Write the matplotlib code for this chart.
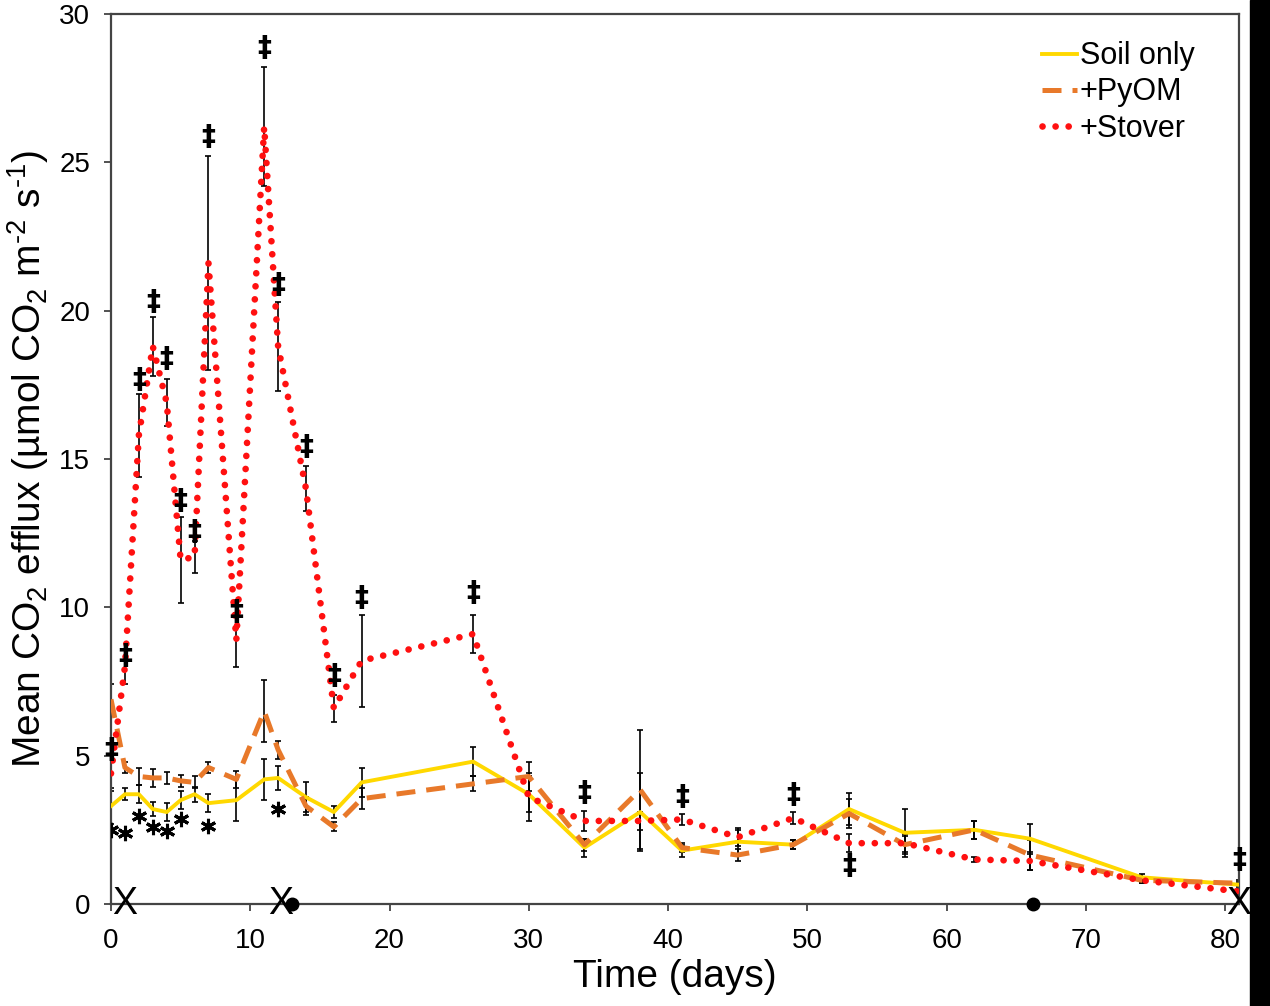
import matplotlib
matplotlib.use("Agg")
import matplotlib.pyplot as plt
from matplotlib.patches import Rectangle

plt.rcParams['font.family'] = ['Liberation Sans', 'DejaVu Sans']
plt.rcParams['mathtext.fontset'] = 'custom'
plt.rcParams['mathtext.rm'] = 'Liberation Sans'
plt.rcParams['mathtext.it'] = 'Liberation Sans:italic'

days = [0, 1, 2, 3, 4, 5, 6, 7, 9, 11, 12, 14, 16, 18, 26, 30, 34, 38, 41, 45, 49, 53, 57, 62, 66, 74, 81]

soil = [3.3, 3.7, 3.7, 3.2, 3.1, 3.5, 3.7, 3.4, 3.5, 4.2, 4.25, 3.6, 3.1, 4.1, 4.8, 3.7, 1.9, 3.1, 1.8, 2.1, 2.0, 3.2, 2.4, 2.5, 2.2, 0.9, 0.65]
soil_err = [0.6, 0.2, 0.3, 0.25, 0.3, 0.3, 0.25, 0.3, 0.7, 0.7, 0.4, 0.5, 0.2, 0.5, 0.5, 0.6, 0.3, 1.3, 0.2, 0.4, 0.15, 0.55, 0.8, 0.3, 0.5, 0.1, 0.1]

pyom = [6.9, 4.6, 4.3, 4.25, 4.25, 4.15, 4.1, 4.6, 4.2, 6.5, 5.2, 3.3, 2.6, 3.55, 4.05, 4.3, 2.0, 3.85, 1.9, 1.65, 2.0, 3.05, 2.0, 2.5, 1.65, 0.8, 0.7]
pyom_err = [0.5, 0.2, 0.3, 0.3, 0.2, 0.2, 0.2, 0.2, 0.3, 1.05, 0.3, 0.3, 0.15, 0.35, 0.25, 0.5, 0.2, 2.0, 0.15, 0.2, 0.15, 0.5, 0.3, 0.3, 0.5, 0.1, 0.1]

stover = [4.4, 8.0, 15.8, 18.8, 16.9, 11.6, 11.7, 21.6, 8.9, 26.2, 18.8, 14.0, 6.6, 8.2, 9.1, 3.6, 2.8, 2.8, 2.85, 2.25, 2.9, 2.05, 2.05, 1.5, 1.45, 0.8, 0.42]
stover_err = [0.6, 0.6, 1.4, 1.0, 0.8, 1.45, 0.55, 3.6, 0.9, 2.0, 1.5, 0.75, 0.45, 1.55, 0.65, 0.8, 0.35, 0.3, 0.2, 0.3, 0.2, 0.3, 0.3, 0.1, 0.3, 0.1, 0.1]

# significance markers
star_days = [0, 1, 2, 3, 4, 5, 7, 12]
star_y = [2.5, 2.4, 2.97, 2.58, 2.46, 2.87, 2.63, 3.19]
dd_days = [0, 1, 2, 3, 4, 5, 6, 7, 9, 11, 12, 14, 16, 18, 26, 34, 41, 49, 53, 81]
dd_y = [5.2, 8.37, 17.65, 20.3, 18.36, 13.6, 12.55, 25.85, 9.85, 28.86, 20.86, 15.4, 7.7, 10.33, 10.5, 3.75, 3.6, 3.68, 1.28, 1.48]
x_mark_days = [1, 12.2, 81]
dot_days = [13, 66.2]

xticks = [0, 10, 20, 30, 40, 50, 60, 70, 80]
yticks = [0, 5, 10, 15, 20, 25, 30]

fig = plt.figure(figsize=(12.7, 10.06), dpi=100)
ax = fig.add_axes([0.0874, 0.1014, 0.9756 - 0.0874, 0.986 - 0.1014])

ebkw = dict(fmt='none', ecolor='black', elinewidth=1.2, capsize=2.5, capthick=1.2, zorder=2)
ax.errorbar(days, soil, yerr=soil_err, **ebkw)
ax.errorbar(days, pyom, yerr=pyom_err, **ebkw)
ax.errorbar(days, stover, yerr=stover_err, **ebkw)

ax.plot(days, soil, color='#FFD800', lw=2.8, zorder=3, label='Soil only')
ax.plot(days, pyom, color='#E8792A', lw=3.6, linestyle=(0, (3.8, 2.2)), zorder=4, label='+PyOM')
ax.plot(days, stover, color='#FF1010', lw=4.8, linestyle=(0, (0.01, 1.95)),
        dash_capstyle='round', zorder=5, label='+Stover')

ax.plot(star_days, star_y, linestyle='none', marker=(6, 2, 0), color='black',
        markersize=11, mew=2.2, zorder=6)
for d, y in zip(dd_days, dd_y):
    ax.text(d, y, '‡', ha='center', va='center', fontsize=20, fontweight='bold',
            family='DejaVu Sans', zorder=6)
for d in x_mark_days:
    ax.text(d, 0, 'X', ha='center', va='center', fontsize=27, zorder=7, clip_on=False)
ax.plot(dot_days, [0] * len(dot_days), linestyle='none', marker='o', color='black',
        markersize=9, clip_on=False, zorder=7)

ax.set_xlim(0, 81)
ax.set_ylim(0, 30)
ax.set_xticks(xticks)
ax.set_yticks(yticks)
ax.tick_params(labelsize=20, length=5, width=1.2, direction='out', color='#333333')
ax.tick_params(axis='x', pad=12)
ax.tick_params(axis='y', pad=10)
for s in ax.spines.values():
    s.set_color('#444444')
    s.set_linewidth(1.6)

ax.set_xlabel('Time (days)', fontsize=28, labelpad=4)
ax.set_ylabel('Mean CO$_2$ efflux (µmol CO$_2$ m$^{‐2}$ s$^{‐1}$)', fontsize=28, labelpad=6)

ax.legend(loc='upper right', bbox_to_anchor=(0.977, 0.99), frameon=False, fontsize=22,
          handlelength=1.15, handletextpad=0.1, labelspacing=0.2, borderaxespad=0.2)

fig.patches.append(Rectangle((1250 / 1270, 0), 20 / 1270, 1, transform=fig.transFigure,
                             color='black', zorder=10))

fig.savefig('out.png', dpi=100)
